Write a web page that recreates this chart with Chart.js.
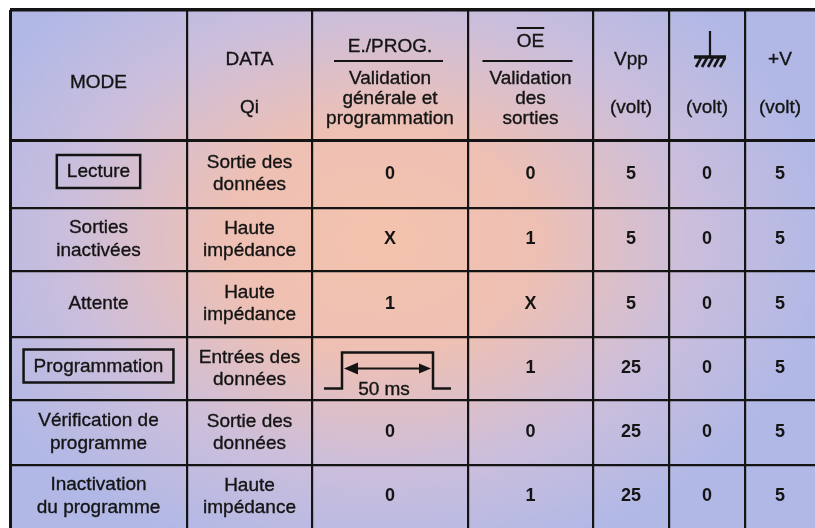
<!DOCTYPE html>
<html>
<head>
<meta charset="utf-8">
<script src="https://cdn.jsdelivr.net/npm/chart.js@4.4.1/dist/chart.umd.min.js"></script>
<style>
  html, body { margin: 0; padding: 0; background: #fff; }
  canvas { display: block; }
</style>
</head>
<body>
<canvas id="eprom-table" width="815" height="528"></canvas>
<script>
// table content
const modes = ['Lecture', 'Sorties\ninactivées', 'Attente', 'Programmation', 'Vérification de\nprogramme', 'Inactivation\ndu programme'];
const boxedModes = ['Lecture', 'Programmation'];
const dataQi = ['Sortie des\ndonnées', 'Haute\nimpédance', 'Haute\nimpédance', 'Entrées des\ndonnées', 'Sortie des\ndonnées', 'Haute\nimpédance'];
const eProg = ['0', 'X', '1', 'pulse', '0', '0'];
const oeValues = ['0', '1', 'X', '1', '0', '1'];
const vppValues = [5, 5, 5, 25, 25, 25];
const groundValues = [0, 0, 0, 0, 0, 0];
const plusVValues = [5, 5, 5, 5, 5, 5];
const pulseLabel = '50 ms';
const voltLabel = '(volt)';

// layout of the grid (scale units)
const colWidths = [177, 125, 156, 125, 76, 76, 70];
const rowHeights = [130, 68, 63, 66, 63, 65, 63];

const cum = arr => arr.reduce((acc, w) => { acc.push(acc[acc.length - 1] + w); return acc; }, [0]);
const colEdges = cum(colWidths);
const rowEdges = cum(rowHeights);

const INK = '#141414';
const FONT = '"Liberation Sans", Arial, Helvetica, sans-serif';

// scanned print looks a bit heavier than plain Arial, so stroke lightly too
function txt(ctx, s, x, y) {
    ctx.fillText(s, x, y);
    ctx.lineWidth = 0.35;
    ctx.strokeText(s, x, y);
}

function drawLines(ctx, text, x, y, lh) {
    const lines = String(text).split('\n');
    lines.forEach((l, i) => txt(ctx, l, x, y + (i - (lines.length - 1) / 2) * lh));
}

const tablePlugin = {
    id: 'eepromTable',
    beforeDraw(chart) {
        const { ctx, chartArea: a } = chart;
        ctx.save();
        ctx.fillStyle = '#fff';
        ctx.fillRect(0, 0, chart.width, chart.height);
        // warm glow in the middle of a lavender sheet
        ctx.beginPath();
        ctx.rect(a.left, a.top, a.right - a.left, a.bottom - a.top);
        ctx.clip();
        ctx.translate(380, 240);
        ctx.scale(1.35, 1);
        const g = ctx.createRadialGradient(0, 0, 0, 0, 0, 330);
        g.addColorStop(0, '#f4c3ad');
        g.addColorStop(0.35, '#eec0b4');
        g.addColorStop(0.7, '#cbbedc');
        g.addColorStop(1, '#b1b8e6');
        ctx.fillStyle = g;
        ctx.fillRect(-400, -300, 800, 600);
        ctx.restore();
    },
    afterDraw(chart) {
        const { ctx } = chart;
        const xs = chart.scales.x, ys = chart.scales.y;
        const colX = i => xs.getPixelForValue(colEdges[i] + colWidths[i] / 2);
        const rowY = j => ys.getPixelForValue(rowEdges[j] + rowHeights[j] / 2);
        const hy = v => ys.getPixelForValue(v); // header offsets from table top

        ctx.save();
        ctx.fillStyle = INK;
        ctx.strokeStyle = INK;
        ctx.textAlign = 'center';
        ctx.textBaseline = 'middle';
        ctx.font = '19px ' + FONT;

        // header row
        txt(ctx, 'MODE', colX(0), hy(73));
        txt(ctx, 'DATA', colX(1), hy(50));
        txt(ctx, 'Qi', colX(1), hy(98));

        txt(ctx, 'E./PROG.', colX(2), hy(37));
        ctx.lineWidth = 2;
        ctx.beginPath();
        ctx.moveTo(colX(2) - 56, hy(51)); ctx.lineTo(colX(2) + 53, hy(51));
        ctx.stroke();
        drawLines(ctx, 'Validation\ngénérale et\nprogrammation', colX(2), hy(89), 20);

        txt(ctx, 'OE', colX(3), hy(32));
        const oeW = ctx.measureText('OE').width;
        ctx.lineWidth = 2;
        ctx.beginPath();
        ctx.moveTo(colX(3) - oeW / 2, hy(18)); ctx.lineTo(colX(3) + oeW / 2, hy(18));
        ctx.stroke();
        ctx.beginPath();
        ctx.moveTo(colX(3) - 48, hy(51)); ctx.lineTo(colX(3) + 42, hy(51));
        ctx.stroke();
        drawLines(ctx, 'Validation\ndes\nsorties', colX(3), hy(89), 20);

        txt(ctx, 'Vpp', colX(4), hy(50));
        txt(ctx, voltLabel, colX(4), hy(98));

        // ground symbol
        const gx = colX(5) + 3;
        ctx.lineWidth = 2.2;
        ctx.beginPath();
        ctx.moveTo(gx, hy(21)); ctx.lineTo(gx, hy(47));
        ctx.stroke();
        ctx.lineWidth = 3.5;
        ctx.beginPath();
        ctx.moveTo(gx - 16, hy(47)); ctx.lineTo(gx + 16, hy(47));
        ctx.stroke();
        ctx.lineWidth = 2.6;
        for (let k = 0; k < 5; k++) {
            const hx = gx - 11 + k * 6;
            ctx.beginPath();
            ctx.moveTo(hx + 2, hy(48)); ctx.lineTo(hx - 3, hy(57));
            ctx.stroke();
        }
        txt(ctx, voltLabel, colX(5), hy(98));

        txt(ctx, '+V', colX(6), hy(50));
        txt(ctx, voltLabel, colX(6), hy(98));

        // body rows
        modes.forEach((m, j) => {
            const r = j + 1;
            const cy = rowY(r);
            ctx.font = '19px ' + FONT;
            if (boxedModes.includes(m)) {
                const ty = cy - 3;
                txt(ctx, m, colX(0), ty + 1);
                const w = ctx.measureText(m).width + 20;
                ctx.lineWidth = 2.5;
                ctx.strokeRect(colX(0) - w / 2, ty - 16, w, 33);
            } else {
                drawLines(ctx, m, colX(0), cy, 23);
            }
            drawLines(ctx, dataQi[j], colX(1), cy, 22);

            ctx.font = 'bold 18px ' + FONT;
            if (eProg[j] === 'pulse') {
                const cx = colX(2);
                ctx.lineWidth = 2.5;
                ctx.beginPath();
                ctx.moveTo(cx - 66, cy + 20); ctx.lineTo(cx - 48, cy + 20);
                ctx.lineTo(cx - 48, cy - 16); ctx.lineTo(cx + 43, cy - 16);
                ctx.lineTo(cx + 43, cy + 20); ctx.lineTo(cx + 61, cy + 20);
                ctx.stroke();
                ctx.lineWidth = 2;
                ctx.beginPath();
                ctx.moveTo(cx - 40, cy); ctx.lineTo(cx + 34, cy);
                ctx.stroke();
                ctx.beginPath();
                ctx.moveTo(cx - 46, cy); ctx.lineTo(cx - 32, cy - 6); ctx.lineTo(cx - 32, cy + 6);
                ctx.closePath(); ctx.fill();
                ctx.beginPath();
                ctx.moveTo(cx + 41, cy); ctx.lineTo(cx + 29, cy - 5); ctx.lineTo(cx + 29, cy + 5);
                ctx.closePath(); ctx.fill();
                ctx.font = '19px ' + FONT;
                txt(ctx, pulseLabel, cx - 6, cy + 21);
                ctx.font = 'bold 18px ' + FONT;
            } else {
                ctx.fillText(eProg[j], colX(2), cy);
            }
            ctx.fillText(oeValues[j], colX(3), cy);
            ctx.fillText(String(vppValues[j]), colX(4), cy);
            ctx.fillText(String(groundValues[j]), colX(5), cy);
            ctx.fillText(String(plusVValues[j]), colX(6), cy);
        });
        ctx.restore();
    }
};

const lastCol = colEdges[colEdges.length - 1];
const lastRow = rowEdges[rowEdges.length - 1];

new Chart(document.getElementById('eprom-table'), {
    type: 'scatter',
    data: { datasets: [] },
    options: {
        responsive: false,
        animation: false,
        events: [],
        layout: { padding: { left: 10, top: 10, right: 0, bottom: 0 } },
        plugins: { legend: { display: false }, tooltip: { enabled: false } },
        scales: {
            x: {
                type: 'linear',
                min: 0,
                max: lastCol,
                afterBuildTicks: s => { s.ticks = colEdges.map(v => ({ value: v })); },
                ticks: { display: false },
                border: { display: false },
                grid: {
                    drawTicks: false,
                    color: INK,
                    lineWidth: c => c.tick.value === 0 ? 3 : (c.tick.value === lastCol ? 0 : 2.2)
                }
            },
            y: {
                type: 'linear',
                reverse: true,
                min: 0,
                max: lastRow,
                afterBuildTicks: s => { s.ticks = rowEdges.map(v => ({ value: v })); },
                ticks: { display: false },
                border: { display: false },
                grid: {
                    drawTicks: false,
                    color: INK,
                    lineWidth: c => c.tick.value === 0 ? 3.5 : (c.tick.value === rowEdges[1] ? 3 : (c.tick.value === lastRow ? 0 : 2.2))
                }
            }
        }
    },
    plugins: [tablePlugin]
});
</script>
</body>
</html>
